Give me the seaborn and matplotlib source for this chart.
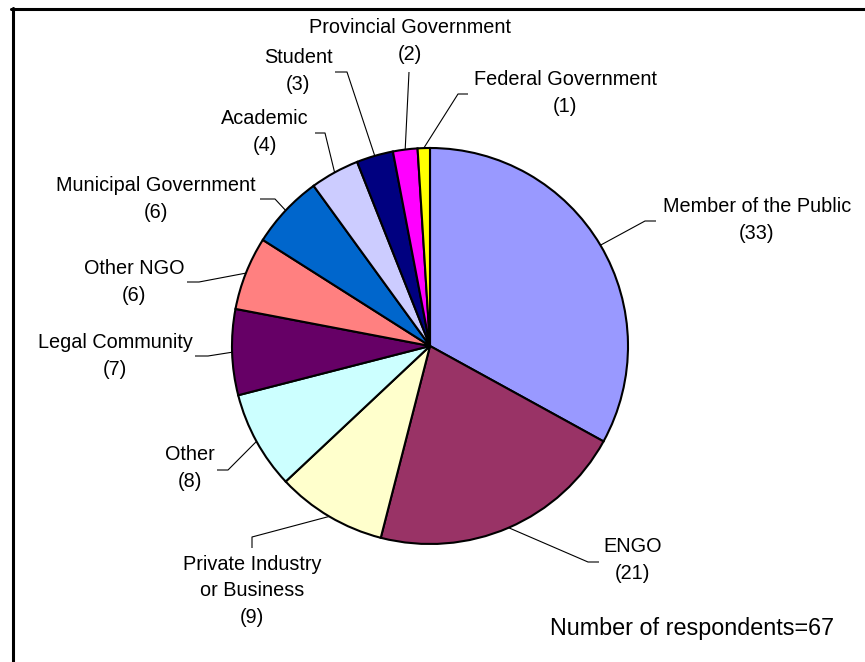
import numpy as np
import matplotlib
matplotlib.use("Agg")
import matplotlib.pyplot as plt
from matplotlib.lines import Line2D
import seaborn as sns

# Respondent groups, clockwise from twelve o'clock
categories = [
    "Member of the Public",
    "ENGO",
    "Private Industry\nor Business",
    "Other",
    "Legal Community",
    "Other NGO",
    "Municipal Government",
    "Academic",
    "Student",
    "Provincial Government",
    "Federal Government",
]
counts = [33, 21, 9, 8, 7, 6, 6, 4, 3, 2, 1]
colors = [
    "#9999FF", "#993366", "#FFFFCC", "#CCFFFF", "#660066", "#FF8080",
    "#0066CC", "#CCCCFF", "#000080", "#FF00FF", "#FFFF00",
]
footnote = "Number of respondents=67"

# Label layout in pixels (top-left origin): text centre, elbow point, line end
label_pos = [(757, 220), (633, 560), (252, 591), (190, 468), (115, 356),
             (134, 282), (156, 199), (265, 132), (298, 71), (410, 41), (565, 93)]
elbow_pos = [(645, 221), (588, 562), (252, 537), (228, 470), (208, 356),
             (199, 282), (275, 199), (325, 133), (347, 72), (409, 72), (458, 94)]
end_pos = [(656, 221), (599, 562), (252, 548), (217, 470), (195, 356),
           (187, 282), (260, 199), (315, 133), (335, 72), (409, 72), (468, 94)]

W, H = 865, 662
CX, CY, R = 430, 346, 198
LINE_PITCH = 26.5  # pixels between label lines

sns.set_theme(style="white")
plt.rcParams["font.family"] = ["Liberation Sans", "DejaVu Sans"]

fig = plt.figure(figsize=(W / 100, H / 100), dpi=100)
ax = fig.add_axes([0, 0, 1, 1])


def px(x, y):
    """Pixel position -> pie data coordinates (radius 1 == R pixels)."""
    return (x - CX) / R, (CY - y) / R


wedges, _ = ax.pie(
    counts,
    colors=colors,
    startangle=90,
    counterclock=False,
    radius=1.0,
    wedgeprops=dict(edgecolor="black", linewidth=1.5),
)

ax.set_xlim(-CX / R, (W - CX) / R)
ax.set_ylim(-(H - CY) / R, CY / R)
ax.set_aspect("auto")
ax.axis("off")

# Leader lines start at each wedge's mid-angle on the rim
for w, cat, v, lp, ep, en in zip(wedges, categories, counts,
                                 label_pos, elbow_pos, end_pos):
    mid = np.deg2rad((w.theta1 + w.theta2) / 2)
    sx, sy = np.cos(mid), np.sin(mid)
    bx, by = px(*ep)
    exx, eyy = px(*en)
    ax.plot([sx, bx, exx], [sy, by, eyy], color="black", lw=0.8,
            solid_capstyle="butt", zorder=1)

    # each label line is its own text, stacked around the label centre
    lines = f"{cat}\n({v})".split("\n")
    n = len(lines)
    for i, line in enumerate(lines):
        ly = lp[1] + (i - (n - 1) / 2) * LINE_PITCH
        tx, ty = px(lp[0], ly)
        ax.text(tx, ty, line, ha="center", va="center", fontsize=14.3,
                color="black")

tx, ty = px(692, 628)
ax.text(tx, ty, footnote, ha="center", va="center", fontsize=16.8,
        color="black")

# Chart frame (top and left edges)
fig.add_artist(Line2D([11 / W, 1.0], [1 - 8.5 / H, 1 - 8.5 / H],
                      transform=fig.transFigure, color="black", lw=2.2))
fig.add_artist(Line2D([12.5 / W, 12.5 / W], [0, 1 - 7.5 / H],
                      transform=fig.transFigure, color="black", lw=2.2))

fig.savefig("out.png", dpi=100, facecolor="white")
